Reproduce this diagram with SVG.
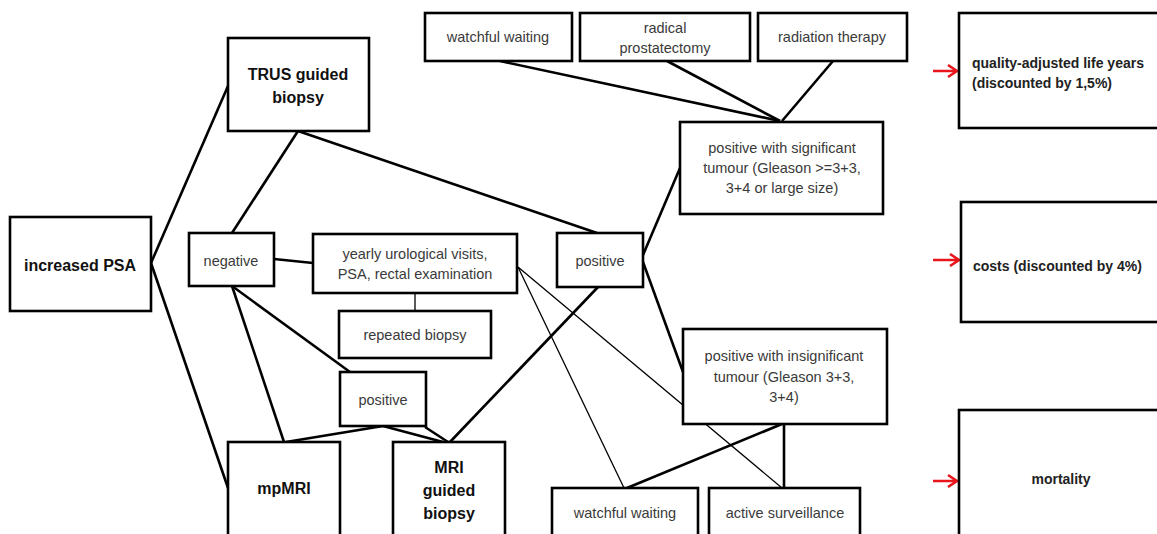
<svg xmlns="http://www.w3.org/2000/svg" width="1157" height="534" viewBox="0 0 1157 534">
<defs>
<style>
.box{fill:#fff;stroke:#000;stroke-width:2.6}
.t{font-family:"Liberation Sans",Arial,sans-serif;font-size:14.5px;fill:#3a3a3a;text-anchor:middle}
.b{font-family:"Liberation Sans",Arial,sans-serif;font-size:16px;font-weight:bold;fill:#111;text-anchor:middle}
.o{font-family:"Liberation Sans",Arial,sans-serif;font-size:14px;font-weight:bold;fill:#222}
.c{stroke:#000;stroke-width:2.6;fill:none}
.thin{stroke:#000;stroke-width:1.3;fill:none}
.arr{stroke:#e8161b;stroke-width:2.6;fill:none}
</style>
</defs>
<rect width="1157" height="534" fill="#fff"/>
<g id="connectors">
<line class="c" x1="151" y1="263" x2="228" y2="86"/>
<line class="c" x1="151" y1="263" x2="228" y2="488"/>
<line class="c" x1="298" y1="131" x2="232" y2="233"/>
<line class="c" x1="298" y1="131" x2="597" y2="233"/>
<line class="c" x1="274" y1="259" x2="313" y2="263"/>
<line class="thin" x1="415" y1="293" x2="415" y2="311"/>
<line class="c" x1="232" y1="286" x2="284" y2="442"/>
<line class="c" x1="232" y1="286" x2="350" y2="372"/>
<line class="c" x1="383" y1="426" x2="286" y2="442"/>
<line class="c" x1="383" y1="426" x2="443" y2="442"/>
<line class="c" x1="425" y1="427" x2="448" y2="442"/>
<line class="c" x1="598" y1="287" x2="450" y2="442"/>
<line class="c" x1="643" y1="255" x2="680" y2="168"/>
<line class="c" x1="643" y1="262" x2="683" y2="372"/>
<line class="c" x1="500" y1="61" x2="780" y2="121"/>
<line class="c" x1="667" y1="61" x2="780" y2="121"/>
<line class="c" x1="833" y1="61" x2="782" y2="121"/>
<line class="thin" x1="518" y1="267" x2="624" y2="488"/>
<line class="thin" x1="518" y1="267" x2="782" y2="488"/>
<line class="c" x1="782" y1="424" x2="627" y2="488"/>
<line class="c" x1="784" y1="424" x2="784" y2="488"/>
<path class="arr" d="M933,71 H956 M948,65 L957,71 L948,77"/>
<path class="arr" d="M933,260 H958 M950,254 L959,260 L950,266"/>
<path class="arr" d="M933,481 H956 M948,475 L957,481 L948,487"/>
</g>
<g id="n-psa"><rect class="box" x="10" y="217" width="141" height="94"/><text class="b" x="80" y="271">increased PSA</text></g>
<g id="n-trus"><rect class="box" x="228" y="38" width="141" height="93"/><text class="b" x="298" y="80">TRUS guided</text><text class="b" x="298" y="103">biopsy</text></g>
<g id="n-negative"><rect class="box" x="189" y="233" width="85" height="53"/><text class="t" x="231" y="266">negative</text></g>
<g id="n-yearly"><rect class="box" x="313" y="234" width="204" height="59"/><text class="t" x="415" y="259">yearly urological visits,</text><text class="t" x="415" y="279">PSA, rectal examination</text></g>
<g id="n-repeated"><rect class="box" x="339" y="311" width="152" height="47"/><text class="t" x="415" y="340">repeated biopsy</text></g>
<g id="n-pos-small"><rect class="box" x="340" y="372" width="86" height="54"/><text class="t" x="383" y="405">positive</text></g>
<g id="n-mpmri"><rect class="box" x="228" y="442" width="112" height="100"/><text class="b" x="284" y="494">mpMRI</text></g>
<g id="n-mri-biopsy"><rect class="box" x="393" y="442" width="112" height="100"/><text class="b" x="449" y="473">MRI</text><text class="b" x="449" y="496">guided</text><text class="b" x="449" y="519">biopsy</text></g>
<g id="n-pos-mid"><rect class="box" x="557" y="233" width="86" height="54"/><text class="t" x="600" y="266">positive</text></g>
<g id="n-ww-top"><rect class="box" x="425" y="13" width="147" height="48"/><text class="t" x="498" y="42">watchful waiting</text></g>
<g id="n-radical"><rect class="box" x="580" y="13" width="170" height="48"/><text class="t" x="665" y="33">radical</text><text class="t" x="665" y="53">prostatectomy</text></g>
<g id="n-radiation"><rect class="box" x="758" y="13" width="149" height="48"/><text class="t" x="832" y="42">radiation therapy</text></g>
<g id="n-sig"><rect class="box" x="680" y="122" width="203" height="92"/><text class="t" x="782" y="153">positive with significant</text><text class="t" x="782" y="173">tumour (Gleason &gt;=3+3,</text><text class="t" x="782" y="193">3+4 or large size)</text></g>
<g id="n-insig"><rect class="box" x="683" y="329" width="204" height="95"/><text class="t" x="784" y="361">positive with insignificant</text><text class="t" x="784" y="382">tumour (Gleason 3+3,</text><text class="t" x="784" y="402">3+4)</text></g>
<g id="n-ww-bottom"><rect class="box" x="552" y="488" width="146" height="54"/><text class="t" x="625" y="518">watchful waiting</text></g>
<g id="n-as"><rect class="box" x="709" y="488" width="151" height="54"/><text class="t" x="785" y="518">active surveillance</text></g>
<g id="n-qaly"><rect class="box" x="959" y="13" width="210" height="115"/><text class="o" x="972" y="68">quality-adjusted life years</text><text class="o" x="972" y="88">(discounted by 1,5%)</text></g>
<g id="n-costs"><rect class="box" x="961" y="202" width="210" height="120"/><text class="o" x="973" y="271">costs (discounted by 4%)</text></g>
<g id="n-mortality"><rect class="box" x="959" y="410" width="210" height="135"/><text class="o" x="1061" y="484" text-anchor="middle">mortality</text></g>
</svg>
